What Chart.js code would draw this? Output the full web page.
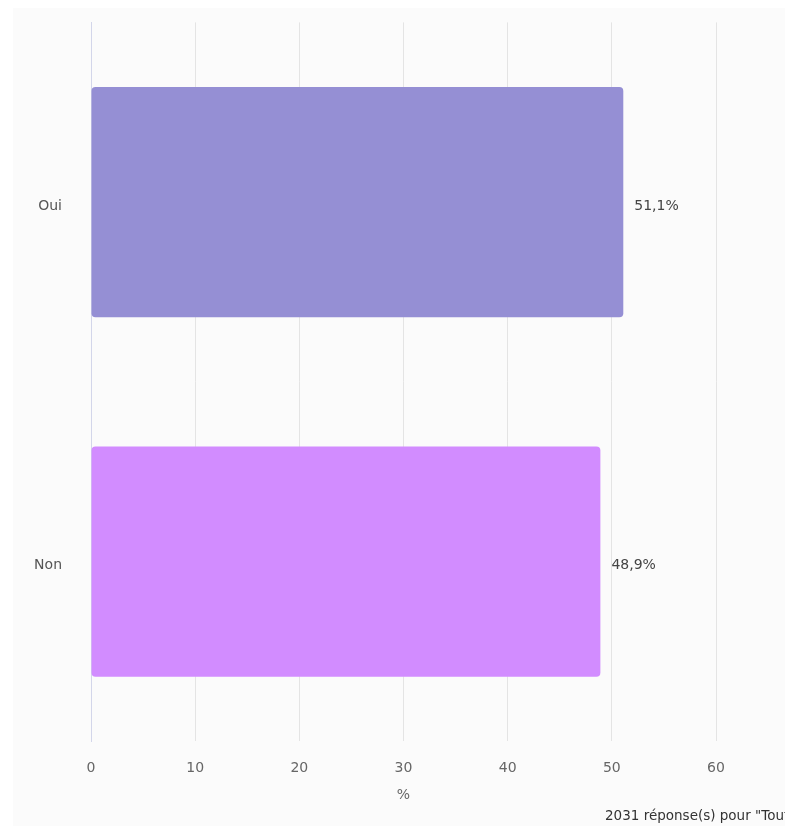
<!DOCTYPE html>
<html>
<head>
<meta charset="utf-8">
<script src="https://cdn.jsdelivr.net/npm/chart.js@4/dist/chart.umd.min.js"></script>
<style>
  html, body { margin: 0; padding: 0; background: #ffffff; overflow: hidden; }
  #fond { position: absolute; left: 13px; top: 8px; width: 900px; height: 900px; background: #fbfbfb; }
  #wrap { position: absolute; left: 0; top: -15px; width: 785px; height: 839px; }
  #note { position: absolute; left: 605px; top: 807px; font: 13.5px "DejaVu Sans", sans-serif; color: #333; white-space: nowrap; }
</style>
</head>
<body>
<div id="fond"></div>
<div id="wrap"><canvas id="graf"></canvas></div>
<div id="note">2031 réponse(s) pour "Tout le monde"</div>
<script>
"use strict"
const categorie = ["Oui", "Non"];
const valori = [51.1, 48.9];
const colori = ["#958fd4", "#d28cff"];
const etichette = ["51,1%", "48,9%"];

const scriviValori = {
    id: "scriviValori",
    afterDatasetsDraw(chart) {
        const ctx = chart.ctx;
        const meta = chart.getDatasetMeta(0);
        ctx.save();
        ctx.font = "14px 'DejaVu Sans'";
        ctx.fillStyle = "#444";
        ctx.textBaseline = "middle";
        meta.data.forEach(function(bar, i) {
            ctx.fillText(etichette[i], bar.x + 11, bar.y + 4);
        });
        ctx.restore();
    }
};

Chart.defaults.font.family = "'DejaVu Sans', sans-serif";
Chart.defaults.color = "#666";

let myChart = new Chart(document.getElementById("graf"), {
    type: "bar",
    data: {
        labels: categorie,
        datasets: [{
            data: valori,
            backgroundColor: colori,
            borderRadius: 4,
            borderSkipped: false,
            categoryPercentage: 0.8,
            barPercentage: 0.8
        }]
    },
    options: {
        indexAxis: "y",
        responsive: true,
        maintainAspectRatio: false,
        animation: false,
        layout: { padding: { top: 7, left: 0, right: 69, bottom: 20 } },
        plugins: { legend: { display: false }, tooltip: { enabled: false } },
        scales: {
            x: {
                min: 0,
                max: 60,
                ticks: { stepSize: 10, padding: 19, font: { size: 14 }, color: "#666" },
                grid: { color: "#e4e4e4", drawTicks: false },
                border: { display: false },
                title: { display: true, text: "%", font: { size: 14 }, color: "#666", padding: { top: -9, bottom: 0 } }
            },
            y: {
                ticks: { padding: 29, labelOffset: 4, font: { size: 14 }, color: "#555" },
                grid: { display: false, drawTicks: false },
                border: { display: true, color: "#d3d6ea" },
                afterFit: function(scale) { scale.width = 91; }
            }
        }
    },
    plugins: [scriviValori]
});
</script>
</body>
</html>
